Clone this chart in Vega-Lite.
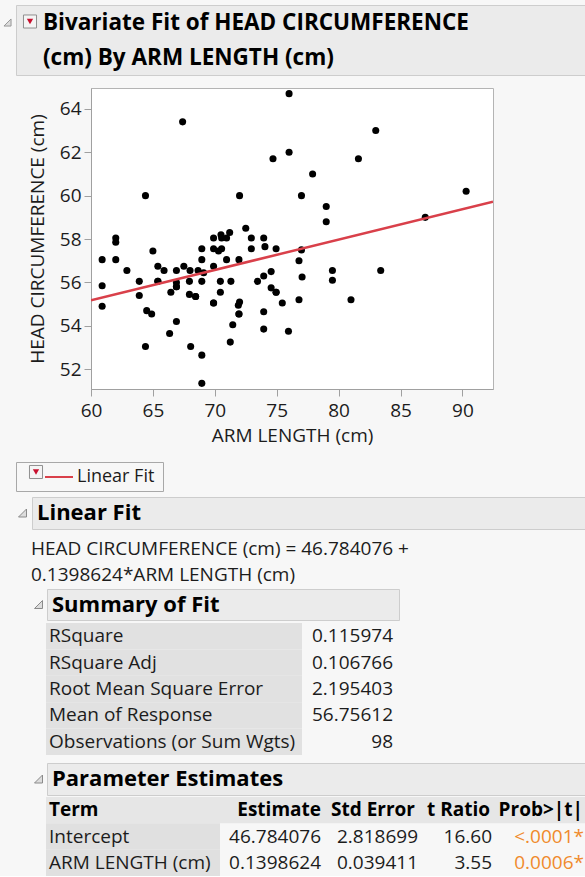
{
  "$schema": "https://vega.github.io/schema/vega-lite/v6.json",
  "background": "#f7f7f7",
  "padding": {"left": 0, "top": 4, "right": 0, "bottom": 0},
  "spacing": 0,
  "config": {
    "font": "Open Sans",
    "view": {"stroke": null},
    "concat": {"spacing": 0},
    "text": {"fontSize": 19, "color": "#1c1c1c"},
    "scale": {"bandPaddingInner": 0, "bandPaddingOuter": 0}
  },
  "datasets": {
    "points": [
      {"arm": 76.0, "head": 64.7}, {"arm": 67.4, "head": 63.4}, {"arm": 83.0, "head": 63.0}, {"arm": 76.0, "head": 62.0},
      {"arm": 74.7, "head": 61.7}, {"arm": 81.6, "head": 61.7}, {"arm": 77.9, "head": 61.0}, {"arm": 64.4, "head": 60.0},
      {"arm": 72.0, "head": 60.0}, {"arm": 77.0, "head": 60.0}, {"arm": 90.3, "head": 60.2}, {"arm": 79.0, "head": 59.5},
      {"arm": 79.0, "head": 58.8}, {"arm": 87.0, "head": 59.0}, {"arm": 72.5, "head": 58.5}, {"arm": 71.2, "head": 58.3},
      {"arm": 60.9, "head": 57.05}, {"arm": 60.9, "head": 55.85}, {"arm": 60.9, "head": 54.9}, {"arm": 62.0, "head": 58.05},
      {"arm": 62.0, "head": 57.85}, {"arm": 62.0, "head": 57.05}, {"arm": 62.9, "head": 56.55}, {"arm": 63.9, "head": 56.05},
      {"arm": 63.9, "head": 55.4}, {"arm": 64.5, "head": 54.7}, {"arm": 64.9, "head": 54.55}, {"arm": 64.4, "head": 53.05},
      {"arm": 65.0, "head": 57.45}, {"arm": 65.4, "head": 56.75}, {"arm": 65.9, "head": 56.55}, {"arm": 65.4, "head": 56.05},
      {"arm": 66.9, "head": 56.55}, {"arm": 67.5, "head": 56.75}, {"arm": 68.0, "head": 56.55}, {"arm": 66.9, "head": 56.0},
      {"arm": 66.9, "head": 55.8}, {"arm": 66.45, "head": 55.55}, {"arm": 67.95, "head": 56.05}, {"arm": 67.95, "head": 55.45},
      {"arm": 68.45, "head": 55.35}, {"arm": 66.9, "head": 54.2}, {"arm": 66.35, "head": 53.65}, {"arm": 68.05, "head": 53.05},
      {"arm": 68.65, "head": 56.55}, {"arm": 68.95, "head": 52.65}, {"arm": 68.95, "head": 51.35}, {"arm": 68.95, "head": 57.05},
      {"arm": 68.95, "head": 57.55}, {"arm": 69.1, "head": 56.45}, {"arm": 68.95, "head": 56.05}, {"arm": 69.9, "head": 57.55},
      {"arm": 70.3, "head": 57.45}, {"arm": 70.55, "head": 57.55}, {"arm": 69.9, "head": 58.05}, {"arm": 70.55, "head": 58.05},
      {"arm": 70.95, "head": 58.05}, {"arm": 70.5, "head": 58.2}, {"arm": 69.9, "head": 56.75}, {"arm": 70.95, "head": 57.05},
      {"arm": 69.9, "head": 55.05}, {"arm": 70.45, "head": 56.05}, {"arm": 70.45, "head": 55.55}, {"arm": 71.3, "head": 56.05},
      {"arm": 71.95, "head": 57.05}, {"arm": 72.0, "head": 55.1}, {"arm": 71.9, "head": 54.95}, {"arm": 71.95, "head": 54.55},
      {"arm": 71.45, "head": 54.05}, {"arm": 71.25, "head": 53.25}, {"arm": 72.95, "head": 58.05}, {"arm": 72.95, "head": 57.55},
      {"arm": 73.95, "head": 58.05}, {"arm": 74.05, "head": 57.65}, {"arm": 74.95, "head": 57.55}, {"arm": 73.45, "head": 56.05},
      {"arm": 73.95, "head": 56.3}, {"arm": 74.55, "head": 56.5}, {"arm": 74.55, "head": 55.75}, {"arm": 74.95, "head": 55.55},
      {"arm": 75.45, "head": 55.05}, {"arm": 73.95, "head": 54.65}, {"arm": 73.95, "head": 53.85}, {"arm": 75.95, "head": 53.75},
      {"arm": 77.0, "head": 57.5}, {"arm": 76.8, "head": 57.0}, {"arm": 79.5, "head": 56.55}, {"arm": 79.5, "head": 56.1},
      {"arm": 83.4, "head": 56.55}, {"arm": 77.05, "head": 56.25}, {"arm": 76.8, "head": 55.2}, {"arm": 81.0, "head": 55.2},
      {"arm": 69.9, "head": 55.05}, {"arm": 66.9, "head": 55.8}, {"arm": 68.45, "head": 55.35}, {"arm": 65.4, "head": 56.05},
      {"arm": 74.95, "head": 55.55}, {"arm": 71.95, "head": 54.55}
    ],
    "fit": [{"arm": 60, "head": 55.1758}, {"arm": 92.47, "head": 59.7172}],
    "title": [
      {"part": "title", "line": 1, "text": "Bivariate Fit of HEAD CIRCUMFERENCE"},
      {"part": "title", "line": 2, "text": "(cm) By ARM LENGTH (cm)"}
    ],
    "legend": [{"item": "Linear Fit"}],
    "sections": [{"section": "Linear Fit"}, {"section": "Summary of Fit"}, {"section": "Parameter Estimates"}],
    "equation": [
      {"part": "equation", "line": 1, "text": "HEAD CIRCUMFERENCE (cm) = 46.784076 +"},
      {"part": "equation", "line": 2, "text": "0.1398624*ARM LENGTH (cm)"}
    ],
    "summary": [
      {"stat": "RSquare", "col": "label", "text": "RSquare"},
      {"stat": "RSquare", "col": "value", "text": "0.115974"},
      {"stat": "RSquare Adj", "col": "label", "text": "RSquare Adj"},
      {"stat": "RSquare Adj", "col": "value", "text": "0.106766"},
      {"stat": "Root Mean Square Error", "col": "label", "text": "Root Mean Square Error"},
      {"stat": "Root Mean Square Error", "col": "value", "text": "2.195403"},
      {"stat": "Mean of Response", "col": "label", "text": "Mean of Response"},
      {"stat": "Mean of Response", "col": "value", "text": "56.75612"},
      {"stat": "Observations (or Sum Wgts)", "col": "label", "text": "Observations (or Sum Wgts)"},
      {"stat": "Observations (or Sum Wgts)", "col": "value", "text": "98"}
    ],
    "params": [
      {"row": "Term", "col": "Term", "text": "Term"},
      {"row": "Term", "col": "Estimate", "text": "Estimate"},
      {"row": "Term", "col": "Std Error", "text": "Std Error"},
      {"row": "Term", "col": "t Ratio", "text": "t Ratio"},
      {"row": "Term", "col": "Prob>|t|", "text": "Prob>|t|"},
      {"row": "Intercept", "col": "Term", "text": "Intercept"},
      {"row": "Intercept", "col": "Estimate", "text": "46.784076"},
      {"row": "Intercept", "col": "Std Error", "text": "2.818699"},
      {"row": "Intercept", "col": "t Ratio", "text": "16.60"},
      {"row": "Intercept", "col": "Prob>|t|", "text": "<.0001*"},
      {"row": "ARM LENGTH (cm)", "col": "Term", "text": "ARM LENGTH (cm)"},
      {"row": "ARM LENGTH (cm)", "col": "Estimate", "text": "0.1398624"},
      {"row": "ARM LENGTH (cm)", "col": "Std Error", "text": "0.039411"},
      {"row": "ARM LENGTH (cm)", "col": "t Ratio", "text": "3.55"},
      {"row": "ARM LENGTH (cm)", "col": "Prob>|t|", "text": "0.0006*"}
    ]
  },
  "vconcat": [
    {
      "spacing": 0,
      "hconcat": [
        {"width": 15, "height": 35, "data": {"values": [{"state": "open"}]},
         "mark": {"type": "point", "shape": "M-1,1L1,1L1,-1Z", "size": 50, "filled": true, "fill": "#dcdcdc", "stroke": "#999999", "strokeWidth": 1, "opacity": 1},
         "encoding": {}},
        {"width": 570, "height": 70, "view": {"fill": "#ebebeb", "stroke": "#cdcdcd"},
         "data": {"name": "title"},
         "encoding": {
           "x": {"field": "part", "type": "nominal", "axis": null, "bandPosition": 0, "scale": {"type": "band", "paddingInner": 0, "paddingOuter": 0}},
           "y": {"field": "line", "type": "ordinal", "axis": null, "scale": {"type": "band", "paddingInner": 0, "paddingOuter": 0}}
         },
         "layer": [
           {"transform": [{"filter": "datum.line == 1"}],
            "mark": {"type": "point", "shape": "square", "size": 170, "filled": true, "fill": "#f4f4f4", "stroke": "#8f8f8f", "strokeWidth": 1, "xOffset": 14, "yOffset": -1, "opacity": 1},
            "encoding": {"y": {"field": "line", "type": "ordinal", "bandPosition": 0.5}}},
           {"transform": [{"filter": "datum.line == 1"}],
            "mark": {"type": "point", "shape": "triangle-down", "size": 40, "filled": true, "color": "#c8102e", "xOffset": 14, "yOffset": -1, "opacity": 1},
            "encoding": {"y": {"field": "line", "type": "ordinal", "bandPosition": 0.5}}},
           {"mark": {"type": "text", "align": "left", "baseline": "middle", "dx": 27, "fontSize": 22.5, "fontWeight": "bold", "color": "#000000"},
            "encoding": {"text": {"field": "text"}}}
         ]}
      ]
    },
    {"width": 1, "height": 11, "data": {"values": []}, "mark": "point", "encoding": {}},
    {
      "spacing": 0,
      "hconcat": [
        {"width": 27, "height": 1, "data": {"values": []}, "mark": "point", "encoding": {}},
        {"width": 402, "height": 301, "view": {"fill": "#ffffff", "stroke": "#b4b4b4"},
         "layer": [
           {"data": {"name": "points"},
            "mark": {"type": "circle", "size": 50, "color": "#000000", "opacity": 1},
            "encoding": {
              "x": {"field": "arm", "type": "quantitative",
                    "scale": {"domain": [60, 92.47], "nice": false, "zero": false},
                    "axis": {"title": "ARM LENGTH (cm)", "values": [60, 62.5, 65, 67.5, 70, 72.5, 75, 77.5, 80, 82.5, 85, 87.5, 90],
                             "format": "d", "labelExpr": "datum.value % 5 === 0 ? datum.label : ''",
                             "tickSize": {"condition": {"test": "datum.value % 5 === 0", "value": 7}, "value": 4},
                             "grid": false, "labelFlush": false, "labelOverlap": false,
                             "domainColor": "#a0a0a0", "tickColor": "#a0a0a0",
                             "labelFontSize": 19, "labelColor": "#1c1c1c", "labelPadding": 5,
                             "titleFontSize": 19, "titleFontWeight": "normal", "titleColor": "#1c1c1c", "titlePadding": 6}},
              "y": {"field": "head", "type": "quantitative",
                    "scale": {"domain": [51.09, 64.96], "nice": false, "zero": false},
                    "axis": {"title": "HEAD CIRCUMFERENCE (cm)", "values": [52, 53, 54, 55, 56, 57, 58, 59, 60, 61, 62, 63, 64],
                             "format": "d", "labelExpr": "datum.value % 2 === 0 ? datum.label : ''",
                             "tickSize": {"condition": {"test": "datum.value % 2 === 0", "value": 7}, "value": 4},
                             "grid": false, "labelFlush": false, "labelOverlap": false,
                             "domainColor": "#a0a0a0", "tickColor": "#a0a0a0",
                             "labelFontSize": 19, "labelColor": "#1c1c1c", "labelPadding": 3,
                             "titleFontSize": 19, "titleFontWeight": "normal", "titleColor": "#1c1c1c", "titlePadding": 12}}
            }},
           {"data": {"name": "fit"},
            "mark": {"type": "line", "color": "#d9404a", "strokeWidth": 2.5, "clip": true},
            "encoding": {
              "x": {"field": "arm", "type": "quantitative"},
              "y": {"field": "head", "type": "quantitative"}
            }}
         ]}
      ]
    },
    {"width": 1, "height": 15, "data": {"values": []}, "mark": "point", "encoding": {}},
    {
      "spacing": 0,
      "hconcat": [
        {"width": 15, "height": 1, "data": {"values": []}, "mark": "point", "encoding": {}},
        {"width": 147, "height": 29, "view": {"stroke": "#a8a8a8"},
         "data": {"name": "legend"},
         "encoding": {
           "x": {"field": "item", "type": "nominal", "axis": null, "bandPosition": 0, "scale": {"type": "band", "paddingInner": 0, "paddingOuter": 0}}
         },
         "layer": [
           {"mark": {"type": "point", "shape": "square", "size": 170, "filled": true, "fill": "#f4f4f4", "stroke": "#8f8f8f", "strokeWidth": 1, "xOffset": 20, "yOffset": -4.5, "opacity": 1}},
           {"mark": {"type": "point", "shape": "triangle-down", "size": 40, "filled": true, "color": "#c8102e", "xOffset": 20, "yOffset": -4.5, "opacity": 1}},
           {"mark": {"type": "point", "shape": "M-1,0L1,0", "size": 784, "filled": false, "stroke": "#d9404a", "strokeWidth": 2, "xOffset": 43, "yOffset": 0.5, "opacity": 1}},
           {"mark": {"type": "text", "align": "left", "baseline": "middle", "dx": 61, "dy": 0.5, "fontSize": 18},
            "encoding": {"text": {"field": "item"}}}
         ]}
      ]
    },
    {"width": 1, "height": 4, "data": {"values": []}, "mark": "point", "encoding": {}},
    {
      "spacing": 0,
      "hconcat": [
        {"width": 14, "height": 1, "data": {"values": []}, "mark": "point", "encoding": {}},
        {"width": 17, "height": 32, "data": {"values": [{"state": "open"}]},
         "mark": {"type": "point", "shape": "M-1,1L1,1L1,-1Z", "size": 64, "filled": true, "fill": "#dcdcdc", "stroke": "#8a8a8a", "strokeWidth": 1, "opacity": 1},
         "encoding": {}},
        {"width": 554, "height": 32, "view": {"fill": "#ebebeb", "stroke": "#cdcdcd"},
         "data": {"name": "sections"},
         "transform": [{"filter": "datum.section == 'Linear Fit'"}],
         "mark": {"type": "text", "align": "left", "baseline": "middle", "dx": 5, "fontSize": 22, "fontWeight": "bold", "color": "#000000"},
         "encoding": {
           "x": {"field": "section", "type": "nominal", "axis": null, "bandPosition": 0, "scale": {"type": "band", "paddingInner": 0, "paddingOuter": 0}},
           "text": {"field": "section"}
         }}
      ]
    },
    {
      "spacing": 0,
      "hconcat": [
        {"width": 31, "height": 1, "data": {"values": []}, "mark": "point", "encoding": {}},
        {"width": 554, "height": 58,
         "data": {"name": "equation"},
         "mark": {"type": "text", "align": "left", "baseline": "middle", "fontSize": 19},
         "encoding": {
           "x": {"field": "part", "type": "nominal", "axis": null, "bandPosition": 0, "scale": {"type": "band", "paddingInner": 0, "paddingOuter": 0}},
           "y": {"field": "line", "type": "ordinal", "axis": null, "scale": {"type": "band", "paddingInner": 0, "paddingOuter": 0.1132, "align": 0.958}},
           "text": {"field": "text"}
         }}
      ]
    },
    {
      "spacing": 0,
      "hconcat": [
        {"width": 31, "height": 1, "data": {"values": []}, "mark": "point", "encoding": {}},
        {"width": 15, "height": 31, "data": {"values": [{"state": "open"}]},
         "mark": {"type": "point", "shape": "M-1,1L1,1L1,-1Z", "size": 64, "filled": true, "fill": "#dcdcdc", "stroke": "#8a8a8a", "strokeWidth": 1, "opacity": 1},
         "encoding": {}},
        {"width": 352, "height": 31, "view": {"fill": "#ebebeb", "stroke": "#cdcdcd"},
         "data": {"name": "sections"},
         "transform": [{"filter": "datum.section == 'Summary of Fit'"}],
         "mark": {"type": "text", "align": "left", "baseline": "middle", "dx": 5, "fontSize": 22, "fontWeight": "bold", "color": "#000000"},
         "encoding": {
           "x": {"field": "section", "type": "nominal", "axis": null, "bandPosition": 0, "scale": {"type": "band", "paddingInner": 0, "paddingOuter": 0}},
           "text": {"field": "section"}
         }}
      ]
    },
    {"width": 1, "height": 2, "data": {"values": []}, "mark": "point", "encoding": {}},
    {
      "spacing": 0,
      "hconcat": [
        {"width": 46, "height": 1, "data": {"values": []}, "mark": "point", "encoding": {}},
        {"width": 256, "height": 132,
         "data": {"name": "summary"},
         "transform": [{"filter": "datum.col == 'label'"}],
         "encoding": {"y": {"field": "stat", "type": "nominal", "sort": null, "axis": null, "scale": {"type": "band", "paddingInner": 0, "paddingOuter": 0}}},
         "layer": [
           {"mark": {"type": "rect", "color": "#e1e1e1"}},
           {"mark": {"type": "text", "align": "left", "baseline": "middle", "dx": 3, "fontSize": 19},
            "encoding": {
              "x": {"field": "col", "type": "nominal", "axis": null, "bandPosition": 0, "scale": {"type": "band", "paddingInner": 0, "paddingOuter": 0}},
              "text": {"field": "text"}
            }}
         ]},
        {"width": 96, "height": 132,
         "data": {"name": "summary"},
         "transform": [{"filter": "datum.col == 'value'"}],
         "mark": {"type": "text", "align": "right", "baseline": "middle", "dx": -5, "fontSize": 19},
         "encoding": {
           "y": {"field": "stat", "type": "nominal", "sort": null, "axis": null, "scale": {"type": "band", "paddingInner": 0, "paddingOuter": 0}},
           "x": {"field": "col", "type": "nominal", "axis": null, "bandPosition": 1, "scale": {"type": "band", "paddingInner": 0, "paddingOuter": 0}},
           "text": {"field": "text"}
         }}
      ]
    },
    {"width": 1, "height": 7, "data": {"values": []}, "mark": "point", "encoding": {}},
    {
      "spacing": 0,
      "hconcat": [
        {"width": 31, "height": 1, "data": {"values": []}, "mark": "point", "encoding": {}},
        {"width": 15, "height": 32, "data": {"values": [{"state": "open"}]},
         "mark": {"type": "point", "shape": "M-1,1L1,1L1,-1Z", "size": 64, "filled": true, "fill": "#dcdcdc", "stroke": "#8a8a8a", "strokeWidth": 1, "opacity": 1},
         "encoding": {}},
        {"width": 539, "height": 32, "view": {"fill": "#ebebeb", "stroke": "#cdcdcd"},
         "data": {"name": "sections"},
         "transform": [{"filter": "datum.section == 'Parameter Estimates'"}],
         "mark": {"type": "text", "align": "left", "baseline": "middle", "dx": 5, "fontSize": 22, "fontWeight": "bold", "color": "#000000"},
         "encoding": {
           "x": {"field": "section", "type": "nominal", "axis": null, "bandPosition": 0, "scale": {"type": "band", "paddingInner": 0, "paddingOuter": 0}},
           "text": {"field": "section"}
         }}
      ]
    },
    {"width": 1, "height": 1, "data": {"values": []}, "mark": "point", "encoding": {}},
    {
      "spacing": 0,
      "hconcat": [
        {"width": 46, "height": 1, "data": {"values": []}, "mark": "point", "encoding": {}},
        {"width": 174, "height": 79,
         "data": {"name": "params"},
         "transform": [{"filter": "datum.col == 'Term'"}],
         "encoding": {"y": {"field": "row", "type": "nominal", "axis": null, "scale": {"type": "band", "domain": ["Term", "Intercept", "ARM LENGTH (cm)"], "paddingInner": 0, "paddingOuter": 0}}},
         "layer": [
           {"transform": [{"filter": "datum.row == 'Term'"}], "mark": {"type": "rect", "color": "#e6e6e6"}},
           {"transform": [{"filter": "datum.row != 'Term'"}], "mark": {"type": "rect", "color": "#e0e0e0"}},
           {"transform": [{"filter": "datum.row == 'Term'"}],
            "mark": {"type": "text", "align": "left", "baseline": "middle", "dx": 3, "fontSize": 19, "fontWeight": "bold", "color": "#000000"},
            "encoding": {"x": {"field": "col", "type": "nominal", "axis": null, "bandPosition": 0, "scale": {"type": "band", "paddingInner": 0, "paddingOuter": 0}}, "text": {"field": "text"}}},
           {"transform": [{"filter": "datum.row != 'Term'"}],
            "mark": {"type": "text", "align": "left", "baseline": "middle", "dx": 3, "fontSize": 19},
            "encoding": {"x": {"field": "col", "type": "nominal", "axis": null, "bandPosition": 0, "scale": {"type": "band", "paddingInner": 0, "paddingOuter": 0}}, "text": {"field": "text"}}}
         ]},
        {"width": 102, "height": 79,
         "data": {"name": "params"},
         "transform": [{"filter": "datum.col == 'Estimate'"}],
         "encoding": {"y": {"field": "row", "type": "nominal", "axis": null, "scale": {"type": "band", "domain": ["Term", "Intercept", "ARM LENGTH (cm)"], "paddingInner": 0, "paddingOuter": 0}}},
         "layer": [
           {"transform": [{"filter": "datum.row == 'Term'"}], "mark": {"type": "rect", "color": "#e6e6e6"}},
           {"transform": [{"filter": "datum.row == 'Term'"}],
            "mark": {"type": "text", "align": "right", "baseline": "middle", "dx": -1, "fontSize": 19, "fontWeight": "bold", "color": "#000000"},
            "encoding": {"x": {"field": "col", "type": "nominal", "axis": null, "bandPosition": 1, "scale": {"type": "band", "paddingInner": 0, "paddingOuter": 0}}, "text": {"field": "text"}}},
           {"transform": [{"filter": "datum.row != 'Term'"}],
            "mark": {"type": "text", "align": "right", "baseline": "middle", "dx": -1, "fontSize": 19},
            "encoding": {"x": {"field": "col", "type": "nominal", "axis": null, "bandPosition": 1, "scale": {"type": "band", "paddingInner": 0, "paddingOuter": 0}}, "text": {"field": "text"}}}
         ]},
        {"width": 98, "height": 79,
         "data": {"name": "params"},
         "transform": [{"filter": "datum.col == 'Std Error'"}],
         "encoding": {"y": {"field": "row", "type": "nominal", "axis": null, "scale": {"type": "band", "domain": ["Term", "Intercept", "ARM LENGTH (cm)"], "paddingInner": 0, "paddingOuter": 0}}},
         "layer": [
           {"transform": [{"filter": "datum.row == 'Term'"}], "mark": {"type": "rect", "color": "#e6e6e6"}},
           {"transform": [{"filter": "datum.row == 'Term'"}],
            "mark": {"type": "text", "align": "right", "baseline": "middle", "dx": -5, "fontSize": 19, "fontWeight": "bold", "color": "#000000"},
            "encoding": {"x": {"field": "col", "type": "nominal", "axis": null, "bandPosition": 1, "scale": {"type": "band", "paddingInner": 0, "paddingOuter": 0}}, "text": {"field": "text"}}},
           {"transform": [{"filter": "datum.row != 'Term'"}],
            "mark": {"type": "text", "align": "right", "baseline": "middle", "dx": -2, "fontSize": 19},
            "encoding": {"x": {"field": "col", "type": "nominal", "axis": null, "bandPosition": 1, "scale": {"type": "band", "paddingInner": 0, "paddingOuter": 0}}, "text": {"field": "text"}}}
         ]},
        {"width": 75, "height": 79,
         "data": {"name": "params"},
         "transform": [{"filter": "datum.col == 't Ratio'"}],
         "encoding": {"y": {"field": "row", "type": "nominal", "axis": null, "scale": {"type": "band", "domain": ["Term", "Intercept", "ARM LENGTH (cm)"], "paddingInner": 0, "paddingOuter": 0}}},
         "layer": [
           {"transform": [{"filter": "datum.row == 'Term'"}], "mark": {"type": "rect", "color": "#e6e6e6"}},
           {"transform": [{"filter": "datum.row == 'Term'"}],
            "mark": {"type": "text", "align": "right", "baseline": "middle", "dx": -5, "fontSize": 19, "fontWeight": "bold", "color": "#000000"},
            "encoding": {"x": {"field": "col", "type": "nominal", "axis": null, "bandPosition": 1, "scale": {"type": "band", "paddingInner": 0, "paddingOuter": 0}}, "text": {"field": "text"}}},
           {"transform": [{"filter": "datum.row != 'Term'"}],
            "mark": {"type": "text", "align": "right", "baseline": "middle", "dx": -3, "fontSize": 19},
            "encoding": {"x": {"field": "col", "type": "nominal", "axis": null, "bandPosition": 1, "scale": {"type": "band", "paddingInner": 0, "paddingOuter": 0}}, "text": {"field": "text"}}}
         ]},
        {"width": 90, "height": 79,
         "data": {"name": "params"},
         "transform": [{"filter": "datum.col == 'Prob>|t|'"}],
         "encoding": {"y": {"field": "row", "type": "nominal", "axis": null, "scale": {"type": "band", "domain": ["Term", "Intercept", "ARM LENGTH (cm)"], "paddingInner": 0, "paddingOuter": 0}}},
         "layer": [
           {"transform": [{"filter": "datum.row == 'Term'"}], "mark": {"type": "rect", "color": "#e6e6e6"}},
           {"transform": [{"filter": "datum.row == 'Term'"}],
            "mark": {"type": "text", "align": "right", "baseline": "middle", "dx": -2, "fontSize": 19, "fontWeight": "bold", "color": "#000000"},
            "encoding": {"x": {"field": "col", "type": "nominal", "axis": null, "bandPosition": 1, "scale": {"type": "band", "paddingInner": 0, "paddingOuter": 0}}, "text": {"field": "text"}}},
           {"transform": [{"filter": "datum.row != 'Term'"}],
            "mark": {"type": "text", "align": "right", "baseline": "middle", "dx": -1, "fontSize": 19, "color": "#f08a2c"},
            "encoding": {"x": {"field": "col", "type": "nominal", "axis": null, "bandPosition": 1, "scale": {"type": "band", "paddingInner": 0, "paddingOuter": 0}}, "text": {"field": "text"}}}
         ]}
      ]
    }
  ]
}
